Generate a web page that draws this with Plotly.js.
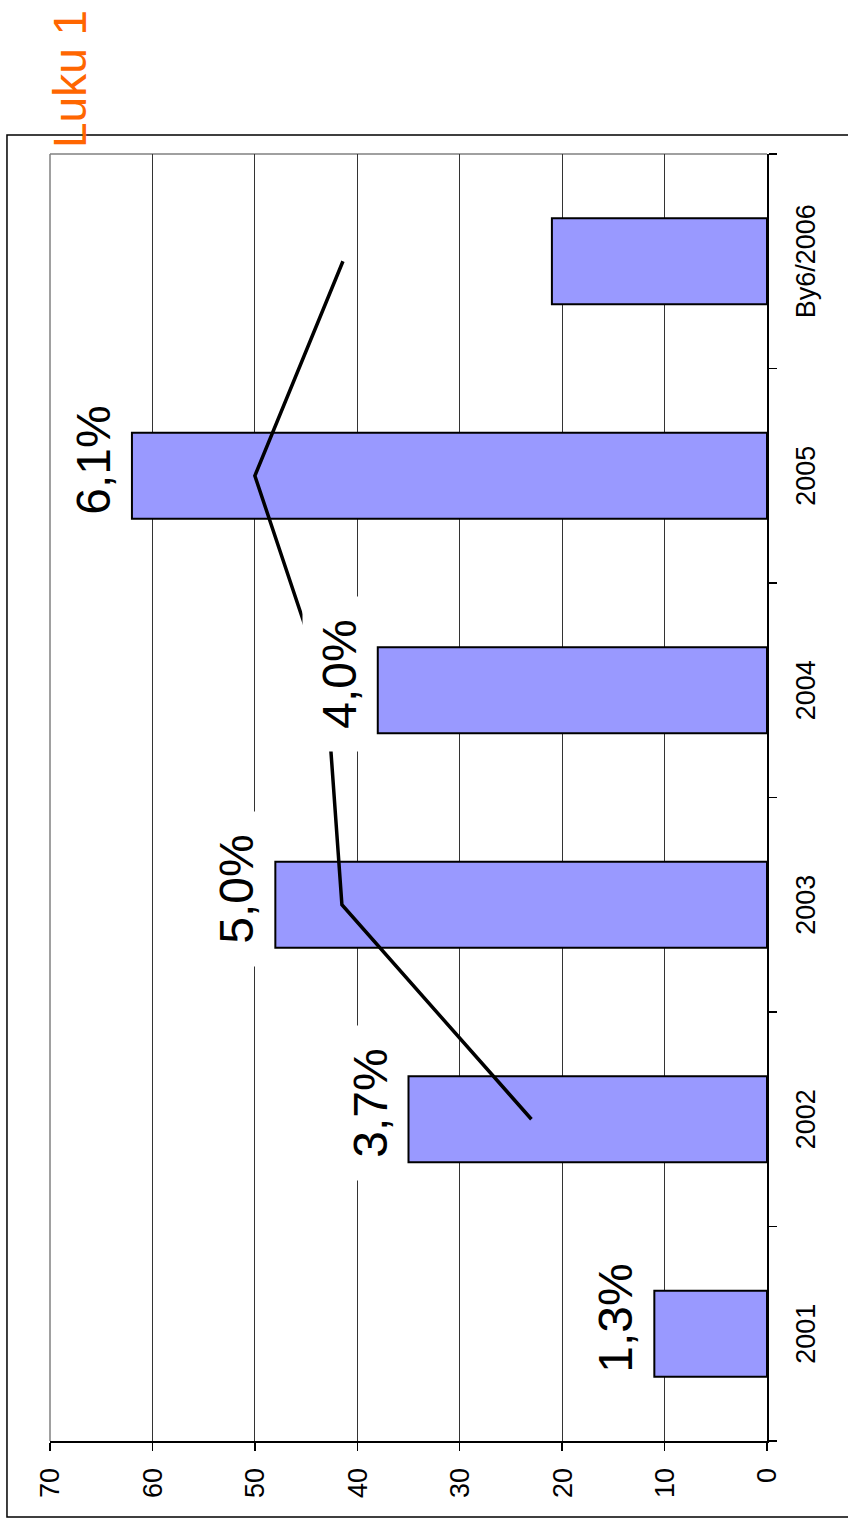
<!DOCTYPE html>
<html>
<head>
<meta charset="utf-8">
<script src="https://cdn.plot.ly/plotly-3.0.1.min.js"></script>
<style>
html, body { margin:0; padding:0; width:848px; height:1528px; overflow:hidden; background:#fff; }
#chart { position:absolute; left:0; top:0; width:1528px; height:848px;
  transform-origin:0 0; transform:translateY(1528px) rotate(-90deg); }
</style>
</head>
<body>
<div id="chart"></div>
<script>
// Data
var categories = ['2001', '2002', '2003', '2004', '2005', 'By6/2006'];
var barValues = [11, 35, 48, 38, 62, 21];
var lineCategories = ['2002', '2003', '2004', '2005', 'By6/2006'];
var lineValues = [23, 41.5, 43, 50, 41.4];
var labelCategories = ['2001', '2002', '2003', '2004', '2005'];
var labelTexts = ['1,3%', '3,7%', '5,0%', '4,0%', '6,1%'];
var yTickValues = [0, 10, 20, 30, 40, 50, 60, 70];

var FONT = 'Liberation Sans, Arial, sans-serif';

var bars = {
  type: 'bar', x: categories, y: barValues, width: 0.4,
  marker: { color: '#9999FF', line: { color: '#000', width: 2 } },
  hoverinfo: 'skip'
};
var line = {
  type: 'scatter', mode: 'lines', x: lineCategories, y: lineValues,
  line: { color: '#000', width: 3.5 }, hoverinfo: 'skip'
};

var annotations = labelCategories.map(function (c, i) {
  var idx = categories.indexOf(c);
  return {
    x: idx, y: barValues[idx], xref: 'x', yref: 'y',
    text: labelTexts[i], showarrow: false, xanchor: 'center', yanchor: 'bottom',
    xshift: 16, yshift: 2,
    font: { family: FONT, size: 48, color: '#000' },
    bgcolor: '#fff', width: 150, height: 68, borderpad: 2
  };
});

var layout = {
  width: 1528, height: 848,
  margin: { l: 87, r: 154, t: 50, b: 81 },
  paper_bgcolor: '#fff', plot_bgcolor: '#fff',
  showlegend: false,
  title: {
    text: 'Luku 1', xref: 'paper', x: 1, xanchor: 'left', pad: { l: 6 },
    yref: 'container', y: 0.917, yanchor: 'middle',
    font: { family: FONT, size: 46, color: '#FF6600' }
  },
  font: { family: FONT, size: 27, color: '#000' },
  xaxis: {
    type: 'category', range: [-0.5, 5.5], tickson: 'boundaries', ticks: 'outside', ticklen: 8,
    tickcolor: '#000', tickwidth: 1.5, showgrid: false, showline: true,
    linecolor: '#000', linewidth: 1.5, ticklabelstandoff: 14,
    tickfont: { family: FONT, size: 27, color: '#000' }, fixedrange: true
  },
  yaxis: {
    range: [0, 70], tickvals: yTickValues, ticks: 'outside', ticklen: 8,
    tickcolor: '#000', tickwidth: 1.5, showgrid: true, gridcolor: '#333',
    gridwidth: 1, zeroline: false, showline: true, linecolor: '#000',
    linewidth: 1.5, ticklabelstandoff: 12,
    tickfont: { family: FONT, size: 27, color: '#000' }, fixedrange: true
  },
  annotations: annotations,
  shapes: [
    { type: 'rect', xref: 'paper', yref: 'paper', x0: -0.0591, x1: 1.0148,
      y0: -0.13, y1: 1.06, line: { color: '#000', width: 1.5 }, layer: 'below' },
    { type: 'line', xref: 'paper', yref: 'paper', x0: 1, x1: 1, y0: 0, y1: 1,
      line: { color: '#808080', width: 1.5 }, layer: 'below' },
    { type: 'line', xref: 'paper', yref: 'paper', x0: 0, x1: 1, y0: 1, y1: 1,
      line: { color: '#808080', width: 1.5 }, layer: 'below' }
  ]
};

Plotly.newPlot('chart', [bars, line], layout, { staticPlot: true, displayModeBar: false });
</script>
</body>
</html>
